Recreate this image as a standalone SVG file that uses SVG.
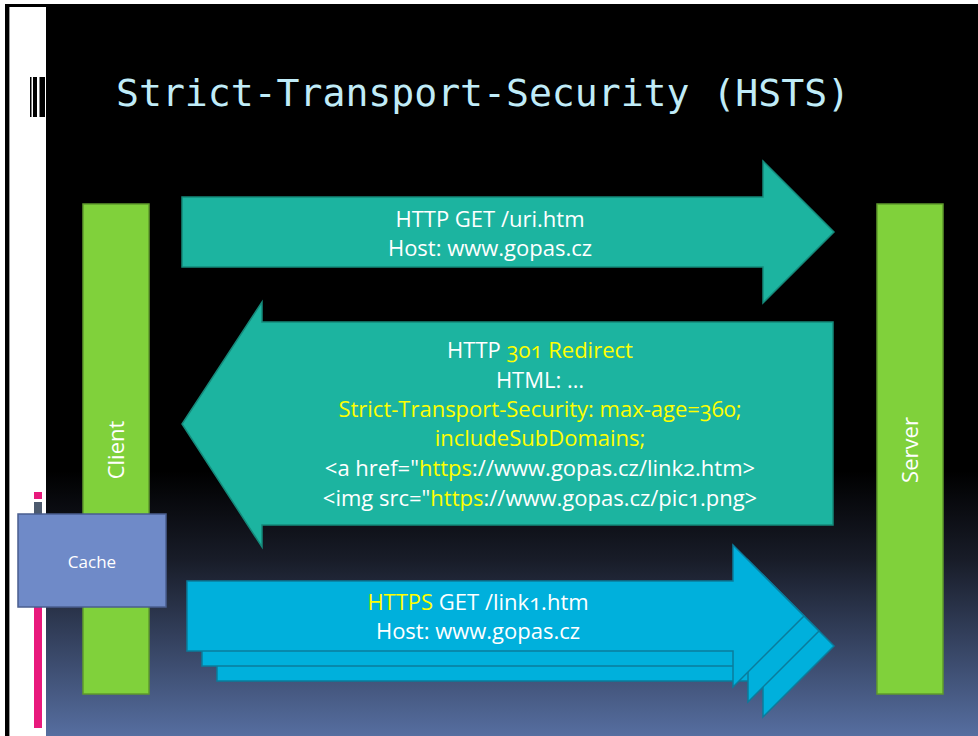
<svg xmlns="http://www.w3.org/2000/svg" width="978" height="736" viewBox="0 0 978 736">
  <defs>
    <linearGradient id="slideBg" x1="0" y1="0" x2="0" y2="736" gradientUnits="userSpaceOnUse">
      <stop offset="0" stop-color="#000000"/>
      <stop offset="0.64" stop-color="#000000"/>
      <stop offset="0.76" stop-color="#181c28"/>
      <stop offset="1" stop-color="#566ea0"/>
    </linearGradient>
    <style>
      .lbl { font-family: "Open Sans", "Noto Sans", "DejaVu Sans", sans-serif; fill: #ffffff; text-anchor: middle; font-variant-numeric: oldstyle-nums; }
      .msg { font-size: 22px; }
      .hl { fill: #ffff00; }
      .bar { fill: #80d13b; stroke: #5f9a2d; stroke-width: 1.5; }
      .teal { fill: #1cb4a0; stroke: #15897a; stroke-width: 1.5; }
      .blue { fill: #00b0dc; stroke: #0a7c9c; stroke-width: 1.5; }
    </style>
  </defs>

  <!-- page frame and side strip -->
  <rect x="0" y="0" width="978" height="736" fill="#ffffff"/>
  <rect x="5" y="4" width="973" height="732" fill="#000000"/>
  <rect x="46" y="4" width="932" height="732" fill="url(#slideBg)"/>
  <rect x="9" y="7" width="37" height="729" fill="#ffffff"/>
  <rect x="9" y="7" width="1" height="729" fill="#9a9a9a"/>

  <!-- strip marks -->
  <rect x="30" y="77" width="1.5" height="40" fill="#000000"/>
  <rect x="33" y="77" width="4" height="40" fill="#000000"/>
  <rect x="39.5" y="77" width="5.5" height="40" fill="#000000"/>
  <rect x="34" y="492" width="8" height="7" fill="#e8197c"/>
  <rect x="34" y="502" width="8" height="14" fill="#4d5a6e"/>
  <rect x="34" y="606" width="8" height="122" fill="#e8197c"/>

  <!-- title -->
  <text x="116" y="106" font-family="'DejaVu Sans Mono', 'Liberation Mono', monospace" font-size="38" fill="#c0ecf8" textLength="734" lengthAdjust="spacingAndGlyphs">Strict-Transport-Security (HSTS)</text>

  <!-- endpoints -->
  <g id="client">
    <rect class="bar" x="83" y="204" width="66" height="490"/>
    <text class="lbl" font-size="22" transform="translate(124 450) rotate(-90)">Client</text>
  </g>
  <g id="server">
    <rect class="bar" x="877" y="204" width="66" height="490"/>
    <text class="lbl" font-size="22" transform="translate(918 450) rotate(-90)">Server</text>
  </g>

  <!-- message arrows -->
  <g id="connectors">
    <g id="request">
      <polygon class="teal" points="182,197 763,197 763,161 834,232 763,303 763,267 182,267"/>
      <text class="lbl msg" x="490" y="227">HTTP GET /uri.htm</text>
      <text class="lbl msg" x="490" y="256">Host: www.gopas.cz</text>
    </g>
    <g id="redirect">
      <polygon class="teal" points="833,322 262,322 262,302 182,424 262,547 262,525 833,525"/>
      <text class="lbl msg" x="540" y="358">HTTP <tspan class="hl">301 Redirect</tspan></text>
      <text class="lbl msg" x="540" y="388">HTML: …</text>
      <text class="lbl msg hl" x="540" y="417">Strict-Transport-Security: max-age=360;</text>
      <text class="lbl msg hl" x="540" y="446">includeSubDomains;</text>
      <text class="lbl msg" x="540" y="476">&lt;a href="<tspan class="hl">https</tspan>://www.gopas.cz/link2.htm&gt;</text>
      <text class="lbl msg" x="540" y="506">&lt;img src="<tspan class="hl">https</tspan>://www.gopas.cz/pic1.png&gt;</text>
    </g>
    <g id="secure-requests">
      <polygon class="blue" points="217,611 763,611 763,575 834,646 763,717 763,681 217,681"/>
      <polygon class="blue" points="202,596 748,596 748,560 819,631 748,702 748,666 202,666"/>
      <polygon class="blue" points="187,581 733,581 733,545 804,616 733,687 733,651 187,651"/>
      <text class="lbl msg" x="478" y="610"><tspan class="hl">HTTPS</tspan> GET /link1.htm</text>
      <text class="lbl msg" x="478" y="639">Host: www.gopas.cz</text>
    </g>
  </g>

  <g id="cache">
    <rect x="18" y="514" width="148" height="93" fill="#6f8ac8" stroke="#4a5e8f" stroke-width="1.5"/>
    <text class="lbl" x="92" y="568" font-size="17">Cache</text>
  </g>
</svg>
